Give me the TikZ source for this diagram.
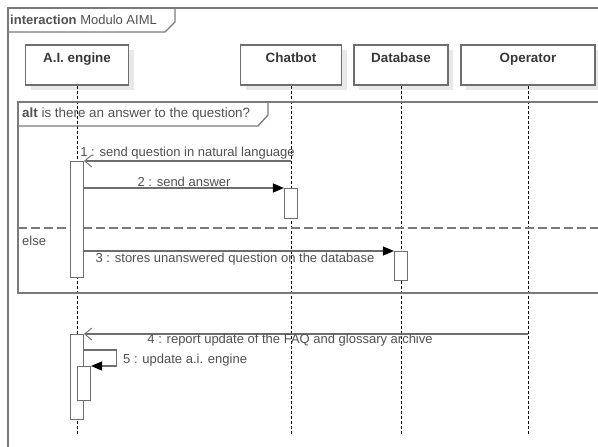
\documentclass[tikz,border=0pt]{standalone}
\usepackage{fontspec}
\setmainfont{Liberation Sans}
\usetikzlibrary{positioning}
\usetikzlibrary{arrows.meta}
\usetikzlibrary{shadows}
\usepackage{xcolor}

\definecolor{linegray}{HTML}{6E6E6E}
\definecolor{framegray}{HTML}{7A7A7A}
\definecolor{textgray}{HTML}{505050}

\tikzset{
  head/.style={draw=linegray, line width=1.1pt, fill=white, minimum width=#1,
    inner sep=0pt, text height=17pt, text depth=23pt, text=textgray!70!black,
    font=\fontsize{13.4}{15}\selectfont\bfseries,
    drop shadow={shadow xshift=5pt, shadow yshift=-5pt, fill=black!9, opacity=1}},
  lifeline/.style={black, line width=0.8pt, dash pattern=on 3pt off 2pt},
  act/.style={draw=linegray, line width=1.1pt, fill=white, minimum width=13pt,
    inner sep=0pt, anchor=north},
  call/.style={linegray, line width=1.1pt, -{Triangle[length=11pt,width=9pt,fill=black,color=black]}},
  reply/.style={linegray, line width=1.1pt, -{Straight Barb[length=7pt,width=12pt,line width=0.9pt]}},
  msg/.style={text=textgray, font=\fontsize{13}{15}\selectfont, inner sep=2pt},
  frame/.style={draw=framegray, line width=1.3pt}
}

\begin{document}
\begin{tikzpicture}[x=1pt, y=-1pt]
        \useasboundingbox (0,0) rectangle (598,447);
        \clip (0,0) rectangle (598,447);
        % outer frame
        \draw[frame] (8,460) -- (8,8) -- (620,8);
        \draw[frame] (8,32) -- (165,32) -- (175,22) -- (175,8);
        \node[msg, anchor=west, font=\fontsize{13}{15}\selectfont] (title) at (8,20) {\textbf{interaction} Modulo AIML};

        % lifeline heads
        \node[head=103pt] (ai) at (77,65) {A.I. engine};
        \node[head=101pt] (cb) at (291,65) {Chatbot};
        \node[head=94pt] (db) at (401,65) {Database};
        \node[head=134pt] (op) at (528,65) {Operator};

        \coordinate (bottom) at (0,435);
        \foreach \n in {ai,cb,db,op}
          \draw[lifeline] (\n.south) -- (\n.south |- bottom);

        % message heights
        \coordinate (m1) at (0,161);
        \coordinate (m2) at (0,188);
        \coordinate (m3) at (0,251);
        \coordinate (m4) at (0,334);
        \coordinate (m5) at (0,350);
        \coordinate (m6) at (0,366);

        % alt fragment
        \draw[frame] (18,102) rectangle (620,293);
        \draw[frame] (18,126) -- (258,126) -- (268,115) -- (268,102);
        \node[msg, anchor=west, font=\fontsize{13.4}{15}\selectfont] (guard) at (20,114) {\textbf{alt} is there an answer to the question?};
        \draw[frame, dash pattern=on 9pt off 4pt] (18,228) -- (620,228);
        \node[msg, anchor=west] (else) at (20,241) {else};

        % activations
        \node[act, minimum height=116pt] (act1) at (ai.south |- m1) {};
        \node[act, minimum height=30pt] (act2) at (cb.south |- m2) {};
        \node[act, minimum height=29pt] (act3) at (db.south |- m3) {};
        \node[act, minimum height=85pt] (act4) at (ai.south |- m4) {};
        \node[act, minimum height=34pt, xshift=7pt] (act5) at (ai.south |- m6) {};

        % messages
        \draw[reply] (cb.south |- m1) -- (act1.north east)
          node[msg, midway, above, yshift=-1pt] {1 : send question in natural language};
        \draw[call] (act1.east |- m2) -- (act2.north west)
          node[msg, midway, above, yshift=-1pt] {2 : send answer};
        \draw[call] (act1.east |- m3) -- (act3.north west)
          node[msg, midway, below, xshift=-4pt] {3 : stores unanswered question on the database};
        \draw[reply] (op.south |- m4) -- (act4.north east)
          node[msg, pos=0.536, below, yshift=2pt] {4 : report update of the FAQ and glossary archive};
        \draw[call] (act4.east |- m5) -- ++(32,0) |- (act5.north east);
        \node[msg, anchor=west] (selfmsg) at (121,360) {5 : update a.i. engine};
\end{tikzpicture}
\end{document}
